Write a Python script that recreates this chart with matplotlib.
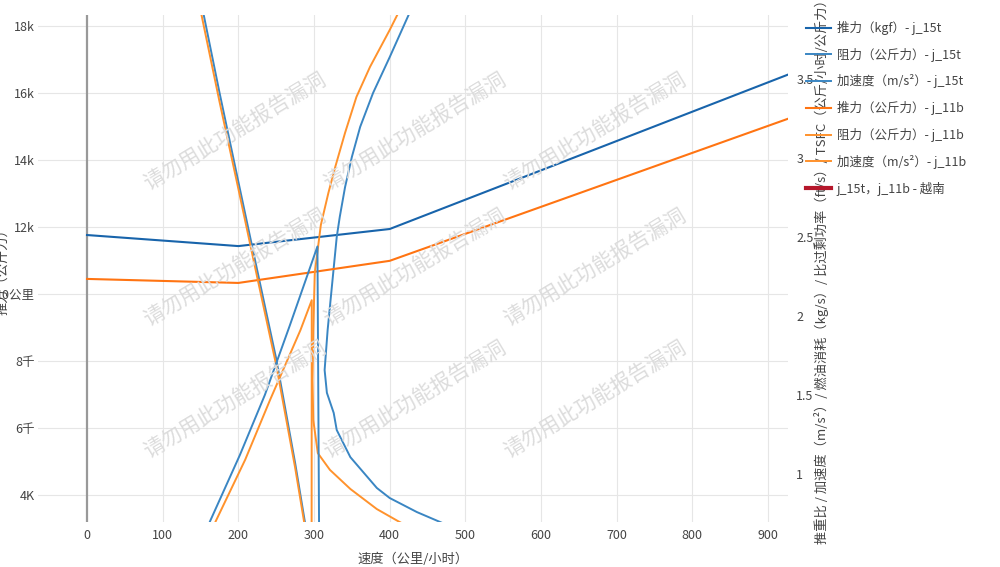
import matplotlib.pyplot as plt
import numpy as np

plt.rcParams['font.family'] = ['Noto Sans CJK SC', 'DejaVu Sans']

# speed (km/h)
thrust_speed = [0, 200, 400, 930]
thrust_15t = [11760, 11430, 11940, 16580]
thrust_11b = [10450, 10330, 10990, 15260]

# drag, low-speed branch
drag_lo_speed = [150, 175, 200, 225, 250, 275, 300]
drag_lo_15t = [18800, 16020, 13350, 10700, 8070, 4960, 1550]
drag_lo_11b = [18470, 15750, 13140, 10490, 7880, 4820, 1410]

# drag, high-speed branch
drag_hi_speed_15t = [506, 467, 436, 400, 383, 348, 330, 326, 317, 314, 318, 330, 334, 341, 350, 361, 378, 400, 425, 434]
drag_hi_15t = [2810, 3190, 3490, 3910, 4210, 5130, 5940, 6450, 7050, 7730, 8930, 11700, 12300, 13190, 14090, 14990, 16000, 17070, 18330, 18840]
drag_hi_speed_11b = [430, 411, 383, 348, 321, 305, 299, 298, 299, 301, 309, 319, 328, 341, 356, 374, 400, 410, 416]
drag_hi_11b = [2990, 3220, 3580, 4180, 4750, 5250, 6240, 7430, 8930, 10630, 12060, 13020, 13790, 14810, 15880, 16780, 17880, 18330, 18660]

# acceleration (m/s2), right axis
acc_speed_15t = [156, 162.5, 202, 235, 268, 304.5, 306.8]
acc_15t = [0.62, 0.70, 1.12, 1.50, 1.94, 2.44, 0.55]
acc_speed_11b = [162.5, 170, 209, 242, 282, 297, 296.8]
acc_11b = [0.62, 0.70, 1.09, 1.47, 1.91, 2.10, 0.55]

left_ticks = [4000, 6000, 8000, 10000, 12000, 14000, 16000, 18000]
left_ticklabels = ['4K', '6千', '8千', '10公里', '12k', '14k', '16k', '18k']
right_ticks = [1, 1.5, 2, 2.5, 3, 3.5]
right_ticklabels = ['1', '1.5', '2', '2.5', '3', '3.5']
x_ticks = [0, 100, 200, 300, 400, 500, 600, 700, 800, 900]

blue_dark = '#1864ab'
blue = '#3a86c3'
orange_dark = '#ff7412'
orange = '#ff922c'
red = '#b5172b'
text_color = '#444444'
grid_color = '#e6e6e6'


def join(xa, ya, xb, yb):
    return list(xa) + [np.nan] + list(xb), list(ya) + [np.nan] + list(yb)


fig = plt.figure(figsize=(10, 5.67), dpi=100)
W, H = 1000, 567
L, R, T, B = 38, 788, 15, 522
ax = fig.add_axes([L / W, 1 - B / H, (R - L) / W, (B - T) / H])
ax2 = ax.twinx()

ax.set_xlim(-64.8, 926.4)
ax.set_ylim(3194, 18328)
ax2.set_ylim(0.696, 3.905)

for a in (ax, ax2):
    for s in a.spines.values():
        s.set_visible(False)

ax.set_xticks(x_ticks)
ax.set_yticks(left_ticks)
ax.set_yticklabels(left_ticklabels)
ax2.set_yticks(right_ticks)
ax2.set_yticklabels(right_ticklabels)
ax.tick_params(axis='x', length=0, pad=5, labelsize=9, labelcolor=text_color)
ax.tick_params(axis='y', length=0, pad=2, labelsize=9, labelcolor=text_color)
ax2.tick_params(axis='y', length=0, pad=6, labelsize=9, labelcolor=text_color)

for xt in x_ticks[1:]:
    ax.axvline(xt, color=grid_color, lw=0.8, zorder=0)
for yt in left_ticks:
    ax.axhline(yt, color=grid_color, lw=0.8, zorder=0)
ax.axvline(0, color='#999999', lw=1.6, zorder=1)

# watermark
for wy in (132, 268, 400):
    for wx in (235, 415, 595):
        fig.text(wx / W, 1 - wy / H, '请勿用此功能报告漏洞', rotation=31, fontsize=15,
                 color='#dcdcdc', ha='center', va='center', rotation_mode='anchor', zorder=0)

handles = []
h, = ax.plot(thrust_speed, thrust_15t, color=blue_dark, lw=1.5, label='推力（kgf）- j_15t')
handles.append(h)
dx, dy = join(drag_lo_speed, drag_lo_15t, drag_hi_speed_15t, drag_hi_15t)
h, = ax.plot(dx, dy, color=blue, lw=1.4, label='阻力（公斤力）- j_15t')
handles.append(h)
h, = ax2.plot(acc_speed_15t, acc_15t, color=blue, lw=1.4, label='加速度（m/s²）- j_15t')
handles.append(h)
h, = ax.plot(thrust_speed, thrust_11b, color=orange_dark, lw=1.5, label='推力（公斤力）- j_11b')
handles.append(h)
dx, dy = join(drag_lo_speed, drag_lo_11b, drag_hi_speed_11b, drag_hi_11b)
h, = ax.plot(dx, dy, color=orange, lw=1.4, label='阻力（公斤力）- j_11b')
handles.append(h)
h, = ax2.plot(acc_speed_11b, acc_11b, color=orange, lw=1.4, label='加速度（m/s²）- j_11b')
handles.append(h)
h, = ax2.plot([], [], color=red, lw=3, label='j_15t，j_11b - 越南')
handles.append(h)

ax.set_xlabel('速度（公里/小时）', fontsize=9.5, color=text_color)
ax.xaxis.set_label_coords(0.5, -(553 - B) / (B - T))
ax.set_ylabel('推力（公斤力）', fontsize=9.5, color=text_color, va='center', ha='center')
ax.yaxis.set_label_coords((3 - L) / (R - L), 0.5)
ax2.set_ylabel('推重比 / 加速度（m/s²）/ 燃油消耗（kg/s）/ 比过剩功率（ft/s）/ TSFC（公斤/小时/公斤力）',
               fontsize=9.5, color=text_color, rotation=90, va='center', ha='center')
ax2.yaxis.set_label_coords((822 - L) / (R - L), 0.5)

fig.legend(handles=handles, loc='upper left', bbox_to_anchor=(806 / W, 1 - 21 / H),
           frameon=False, fontsize=9, handlelength=2.0, handletextpad=0.45,
           labelspacing=1.02, borderpad=0, borderaxespad=0, labelcolor=text_color)

fig.savefig('out.png', dpi=100)
